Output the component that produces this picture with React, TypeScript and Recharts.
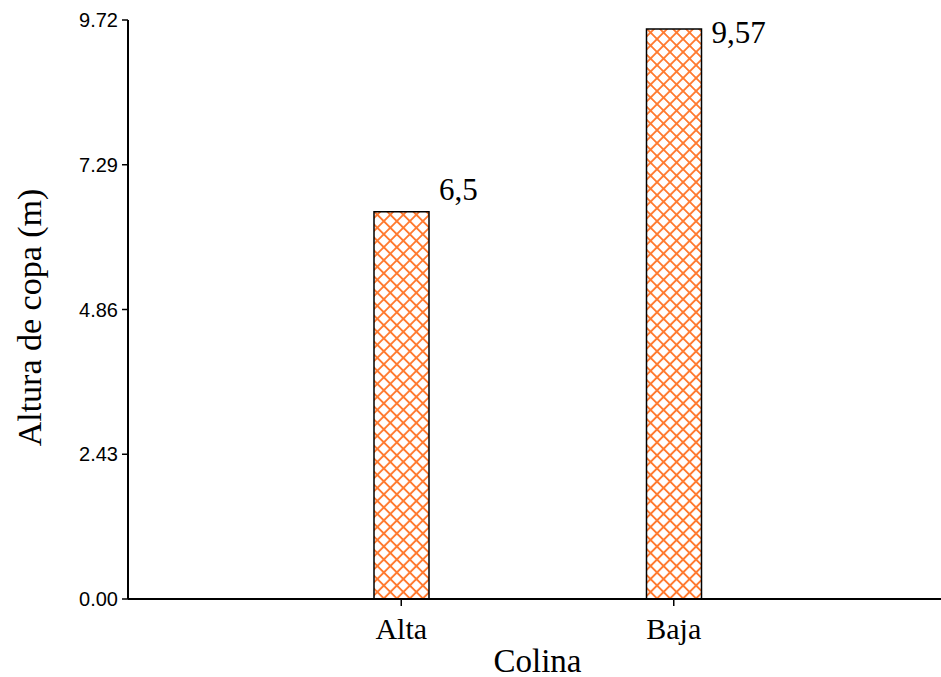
import { BarChart, Bar, XAxis, YAxis, LabelList, Label } from 'recharts';

// Altura de copa por colina
const categories = ['Alta', 'Baja'];
const alturaCopa = [6.5, 9.57];
const valueLabels = ['6,5', '9,57'];
const yTicks = [0, 2.43, 4.86, 7.29, 9.72];

const data = categories.map((colina, i) => ({
  colina,
  altura: alturaCopa[i],
  label: valueLabels[i],
}));

const serif = '"Liberation Serif", "Times New Roman", serif';
const sans = '"Liberation Sans", Arial, sans-serif';

const ValueLabel = (props: any) => {
  const { x, y, width, value } = props;
  // keep label inside the plot when the bar reaches the top
  const ty = Math.max(Number(y) - 12, 43);
  return (
    <text x={Number(x) + Number(width) + 10} y={ty} fontFamily={serif} fontSize={31} fill="#000" textAnchor="start">
      {value}
    </text>
  );
};

const YTitle = (props: any) => {
  const { viewBox } = props;
  const cy = viewBox.y + viewBox.height / 2 + 8;
  return (
    <text
      x={29}
      y={cy}
      transform={`rotate(-90, 29, ${cy})`}
      textAnchor="middle"
      dominantBaseline="central"
      fontFamily={serif}
      fontSize={34}
      fill="#000"
    >
      Altura de copa (m)
    </text>
  );
};

const XTitle = (props: any) => {
  const { viewBox } = props;
  return (
    <text
      x={viewBox.x + viewBox.width / 2 + 3}
      y={672}
      textAnchor="middle"
      fontFamily={serif}
      fontSize={33}
      fill="#000"
    >
      Colina
    </text>
  );
};

export default function App() {
  return (
    <div style={{ position: 'absolute', left: 0, top: 0, width: 941, height: 677, background: '#fff', overflow: 'hidden' }}>
      <BarChart width={941} height={677} data={data} margin={{ top: 20, right: 0, bottom: 0, left: 0 }}>
        <defs>
          <pattern id="crosshatch" width="9.2" height="9.2" patternUnits="userSpaceOnUse" patternTransform="rotate(45)">
            <rect width="9.2" height="9.2" fill="#fff" />
            <path d="M0,4.6 H9.2 M4.6,0 V9.2" stroke="#FF7A30" strokeWidth={1.9} />
            <circle cx={4.6} cy={4.6} r={1.6} fill="#FF7A30" />
          </pattern>
        </defs>
        <XAxis
          dataKey="colina"
          height={78}
          padding={{ left: 137, right: 131 }}
          axisLine={{ stroke: '#000', strokeWidth: 2 }}
          tickLine={{ stroke: '#000', strokeWidth: 1.5 }}
          tickSize={7}
          tickMargin={12}
          tick={{ fill: '#000', fontFamily: serif, fontSize: 30 }}
        >
          <Label content={<XTitle />} />
        </XAxis>
        <YAxis
          width={128}
          domain={[0, 9.72]}
          ticks={yTicks}
          interval={0}
          tickFormatter={(v: number) => v.toFixed(2)}
          axisLine={{ stroke: '#000', strokeWidth: 2 }}
          tickLine={{ stroke: '#000', strokeWidth: 1.5 }}
          tickSize={6}
          tickMargin={4}
          tick={{ fill: '#000', fontFamily: sans, fontSize: 20 }}
        >
          <Label content={<YTitle />} />
        </YAxis>
        <Bar dataKey="altura" barSize={55} fill="url(#crosshatch)" stroke="#000" strokeWidth={1.5} isAnimationActive={false}>
          <LabelList dataKey="label" content={<ValueLabel />} />
        </Bar>
      </BarChart>
    </div>
  );
}
